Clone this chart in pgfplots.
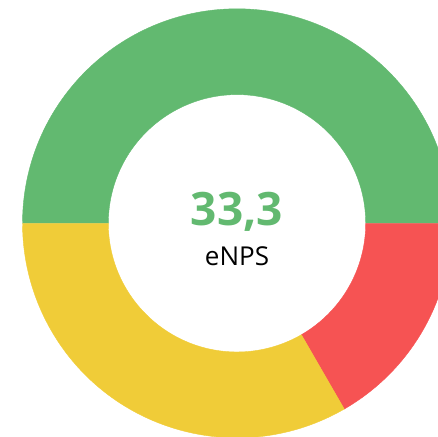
\documentclass[border=0pt]{standalone}
\usepackage{pgfplots}
\pgfplotsset{compat=1.18}
\usepackage{fontspec}
\setmainfont{Open Sans}
\definecolor{npsgreen}{HTML}{62B970}
\definecolor{npsred}{HTML}{F65353}
\definecolor{npsyellow}{HTML}{F0CC38}
\begin{document}
\begin{tikzpicture}
\begin{axis}[
    hide axis,
    scale only axis,
    x=214.5pt, y=214.5pt,
    xmin=-1.105, xmax=0.937,
    ymin=-0.992, ymax=1.041,
]
% promoters / detractors / passives (percent), drawn clockwise from 180 deg
\xdef\start{180}
\foreach \v/\c in {50/npsgreen, 16.667/npsred, 33.333/npsyellow}{
    \pgfmathsetmacro{\e}{\start-3.6*\v}
    \edef\temp{\noexpand\fill[\c, draw=\c, line width=0.4pt]
        (axis cs:{cos(\start)},{sin(\start)})
        arc[start angle=\start, end angle=\e, radius=214.5pt]
        -- (axis cs:{0.6*cos(\e)},{0.6*sin(\e)})
        arc[start angle=\e, end angle=\start, radius=128.7pt] -- cycle;}
    \temp
    \xdef\start{\e}
}
\node[anchor=base, text=npsgreen, font=\fontsize{46}{50}\selectfont\bfseries]
    at (axis cs:0,-0.008) {33,3};
\node[anchor=base, text=black, font=\fontsize{26}{30}\selectfont]
    at (axis cs:0,-0.196) {eNPS};
\end{axis}
\path (current axis.south west) rectangle (current axis.north east);
\end{tikzpicture}
\end{document}
